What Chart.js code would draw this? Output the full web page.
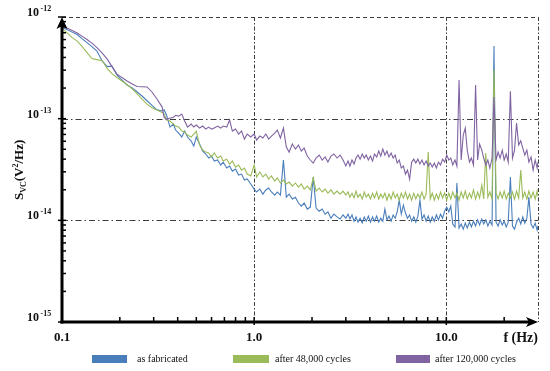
<!DOCTYPE html>
<html><head><meta charset="utf-8">
<script src="https://cdn.jsdelivr.net/npm/chart.js@4/dist/chart.umd.min.js"></script>
<style>
html,body{margin:0;padding:0;background:#fff;}
#wrap{position:relative;width:550px;height:371px;overflow:hidden;}
canvas{position:absolute;left:0;top:0;}
.lg{position:absolute;font-family:'Liberation Serif',serif;font-size:10px;line-height:10px;color:#111;white-space:nowrap;}
.bx{position:absolute;height:8px;}
</style></head><body>
<div id="wrap"><canvas id="c" width="550" height="371"></canvas></div>
<script>
// frequency (Hz)
const frequencies = [
0.100,0.106,0.113,0.120,0.127,0.135,0.143,0.152,0.162,0.172,0.182,0.193,0.205,0.218,0.232,0.246,0.261,0.277,0.294,0.312,0.332,
0.34,0.35,0.365,0.38,0.39,0.405,0.42,0.435,0.45,0.47,0.485,0.50,0.52,0.54,0.56,0.58,0.60,0.62,0.645,0.67,0.69,0.72,0.745,0.77,0.80,0.83,0.86,0.89,0.92,0.96,1.0,
1.03,1.07,1.11,1.15,1.19,1.23,1.28,1.32,1.37,1.42,1.47,1.52,1.58,1.64,1.7,1.76,1.82,1.89,1.96,2.03,2.1,2.18,2.26,2.34,2.42,2.51,2.6,2.7,2.8,2.9,3.0,
3.08,3.15,3.23,3.31,3.39,3.47,3.56,3.65,3.74,3.83,3.93,4.03,4.13,4.23,4.34,4.45,4.56,4.67,4.79,4.91,5.03,5.16,5.29,5.42,5.55,5.69,5.83,5.98,6.13,6.28,
6.44,6.6,6.77,6.94,7.11,7.29,7.47,7.66,7.85,8.05,8.25,8.45,8.66,8.88,9.1,9.33,9.56,9.8,10.05,10.3,10.55,10.8,11.1,11.35,11.65,11.95,12.25,12.55,12.85,13.2,
13.5,13.85,14.2,14.55,14.9,15.3,15.65,16.05,16.45,16.85,17.3,17.7,18.15,18.6,19.05,19.55,20.0,20.5,21.0,21.55,22.1,22.65,23.2,23.8,24.4,25.0,25.6,26.25,26.9,27.6,
28.3,29.0,29.7,30.0
];
// S_VC values in units of 1e-15 V^2/Hz
const asFabricated = [
796,752,710,672,613,560,511,462,368,325,329,270,240,214,200,183,167,150,135,122,119,
122,108,82.7,88.5,77.3,72.2,66,75.5,66,60.2,53.8,66,56.3,48,44.9,41,42.9,38.3,39.2,35,37.4,32.7,34.2,30.5,32,27.9,28.5,24.9,25.5,22.8,20.3,
19,20.3,18.1,19.9,20.8,19,17.7,19,17.7,39.2,16.9,18.1,16.2,16.9,14.8,13.8,14.8,12.9,13.5,26.7,13.2,12.3,12.9,11.5,12.1,10.5,11.5,10.8,10.3,11.3,10.5,
11.5,10.3,11.3,9.8,10.8,9.6,10.5,9.4,10.8,9.8,11,9.6,10.8,9.8,11,9.6,10.5,9.8,12.9,10.1,11,9.8,11.3,10.5,12.1,15.8,11.5,14.1,11.8,10.5,
11.3,9.8,10.8,9.6,11,15.8,10.3,11.3,9.8,11,9.6,10.8,9.8,11.3,10.1,11.5,10.5,12.3,13.5,12.1,13.8,9.2,8.6,23.3,8.4,9.2,8.2,9.4,8.4,9.6,
8.6,9.8,8.8,10.1,9,10.3,9.2,10.1,8.8,9.8,9,517,9.6,8.8,10.1,9,9.8,8.6,9.6,26.7,8.8,8.2,9.6,10.5,9.2,10.8,9.4,10.5,16.9,9.2,
8.4,9.4,8,8.8
];
const after48k = [
778,702,627,580,513,447,390,381,372,311,277,254,235,217,196,175,156,139,128,122,115,
111,96.9,94.7,88.5,84.6,82.7,75.5,73.8,69,66,70.6,75.5,55,49.1,46.9,45.9,41.9,45.9,41,42.9,38.3,40,35.8,38.3,33.4,35,31.2,32.7,28.5,27.3,35,
26.7,29.9,26.7,28.5,25.5,27.3,24.3,26.1,23.3,24.9,22.8,23.8,21.7,23.3,21.2,22.8,20.3,21.7,19.9,26.1,19.4,20.8,19,20.3,18.5,19.9,18.1,19.4,18.1,19.4,17.7,
19,16.9,18.5,16.6,19.4,16.9,18.1,16.2,19,16.9,18.1,16.2,18.5,16.6,19,16.2,18.1,16.6,18.5,15.8,18.1,16.2,19,16.6,18.1,15.8,18.5,16.6,19,16.2,
18.1,15.8,18.5,16.2,18.1,16.6,19,16.2,18.1,46.9,16.2,18.5,15.8,18.1,16.2,19,16.6,18.5,15.8,18.5,16.2,19,16.6,18.5,15.8,19,16.6,19.4,16.2,18.5,
16.6,19.9,16.2,19,16.6,22.2,16.2,45.9,16.9,19,16.2,301,18.5,16.2,19,16.6,19.4,16.2,18.5,16.6,19,16.2,19.4,16.6,31.2,16.6,19,16.2,19.4,16.6,
19,16.2,19.4,17.3
];
const after120k = [
814,778,735,695,649,600,553,500,442,385,325,274,254,235,219,207,206,205,183,156,130,
103,98.9,101,103,108,106,111,94.7,82.7,88.5,82.7,86.5,80.8,84.6,79,82.7,79,80.8,84.6,80.8,84.6,82.7,96.9,75.5,79,70.6,75.5,63,70.6,66,70.6,
61.6,67.4,64.5,70.6,63,67.4,72.2,77.3,64.5,80.8,52.6,46.9,56.3,50.2,55,48,51.4,42.9,39.2,36.6,41,43.9,39.2,42,37.4,42.9,44.9,41,43.9,39.2,34.2,
38.3,34.2,39.2,35.8,41,43.9,40,44.9,41,43.9,39.2,42.9,38.3,44.9,42,48,42.9,50.2,43.9,48,42,45.9,41,43.9,36.6,39.2,32.7,34.2,28.5,31.2,
25.5,37.4,40,36.6,40,35.8,39.2,35,38.3,34.2,36.6,33.4,36.6,32.7,37.4,35,40,37.4,43.9,39.2,41,35,39.2,34.2,240,39.2,69,80.8,49.1,37.4,
41,35,214,39.2,56.3,49.1,41,35,39.2,32.7,41,163,39.2,46.9,41,49.1,39.2,44.9,37.4,186,41,49.1,90.5,55,60.5,51.4,43.9,49.1,37.4,42,
31.2,39.2,32.7,37.4
];
const unit = 1e-15;
const seriesNames = ['as fabricated','after 48,000 cycles','after 120,000 cycles'];
const xTickValues = [0.1, 1, 10];
const xTickLabels = ['0.1','1.0','10.0'];
const xAxisLabel = 'f (Hz)';
const yDecadeExponents = [-15, -14, -13, -12];
const xMin = 0.1, xMax = 30, yMin = 1e-15, yMax = 1e-12;

const colors = ['#4a7ebb', '#9bbb59', '#8064a2'];
const seriesValues = [asFabricated, after48k, after120k];
const pts = vals => frequencies.map((f, i) => ({x: f, y: vals[i] * unit}));

const SERIF = "'Liberation Serif', 'Times New Roman', serif";

const decor = {
  id: 'decor',
  beforeDatasetsDraw(chart) {
    const {ctx, chartArea: a, scales: {x, y}} = chart;
    ctx.save();
    ctx.strokeStyle = '#3c3c3c';
    ctx.lineWidth = 1;
    yDecadeExponents.slice(1).forEach(e => {
      const py = Math.round(y.getPixelForValue(Math.pow(10, e))) + 0.5;
      ctx.setLineDash(e === -12 ? [4, 3] : [6, 3, 1.5, 3]);
      ctx.beginPath(); ctx.moveTo(a.left, py); ctx.lineTo(a.right, py); ctx.stroke();
    });
    [1, 10, xMax].forEach(v => {
      const px = Math.round(x.getPixelForValue(v)) + 0.5;
      ctx.setLineDash([4, 2, 1.5, 2]);
      ctx.beginPath(); ctx.moveTo(px, a.top); ctx.lineTo(px, a.bottom); ctx.stroke();
    });
    ctx.restore();
  },
  afterDatasetsDraw(chart) {
    const {ctx, chartArea: a, scales: {x, y}} = chart;
    ctx.save();
    ctx.setLineDash([]);
    ctx.strokeStyle = '#000'; ctx.fillStyle = '#000';
    // y axis
    ctx.lineWidth = 3;
    ctx.beginPath(); ctx.moveTo(a.left, a.bottom + 1.5); ctx.lineTo(a.left, a.top + 8); ctx.stroke();
    ctx.beginPath(); ctx.moveTo(a.left, a.top); ctx.lineTo(a.left - 5.5, a.top + 12); ctx.lineTo(a.left, a.top + 9); ctx.lineTo(a.left + 5.5, a.top + 12); ctx.closePath(); ctx.fill();
    // x axis
    ctx.beginPath(); ctx.moveTo(a.left - 1.5, a.bottom); ctx.lineTo(a.right - 8, a.bottom); ctx.stroke();
    ctx.beginPath(); ctx.moveTo(a.right, a.bottom); ctx.lineTo(a.right - 12, a.bottom - 5); ctx.lineTo(a.right - 9, a.bottom); ctx.lineTo(a.right - 12, a.bottom + 5); ctx.closePath(); ctx.fill();
    // y ticks
    ctx.lineWidth = 1.5;
    yDecadeExponents.forEach((e, k) => {
      const base = Math.pow(10, e);
      const py = y.getPixelForValue(base);
      ctx.beginPath(); ctx.moveTo(a.left - 4, py); ctx.lineTo(a.left + 4, py); ctx.stroke();
      if (k < yDecadeExponents.length - 1) {
        for (let m = 2; m <= 9; m++) {
          const pm = y.getPixelForValue(m * base);
          ctx.beginPath(); ctx.moveTo(a.left, pm); ctx.lineTo(a.left + 4, pm); ctx.stroke();
        }
      }
    });
    // x ticks
    [-1, 0, 1].forEach(e => {
      const base = Math.pow(10, e);
      for (let m = 1; m <= 9; m++) {
        const v = m * base;
        if (v <= xMin || v >= xMax) continue;
        const px = x.getPixelForValue(v);
        ctx.beginPath(); ctx.moveTo(px, a.bottom - 5); ctx.lineTo(px, a.bottom + (m === 1 ? 3 : 0)); ctx.stroke();
      }
    });
    ctx.restore();
  },
  afterDraw(chart) {
    const {ctx, chartArea: a, scales: {x, y}} = chart;
    ctx.save();
    ctx.fillStyle = '#111';
    ctx.textBaseline = 'alphabetic';
    ctx.textAlign = 'left';
    // y tick labels 10^e
    yDecadeExponents.forEach(e => {
      const py = y.getPixelForValue(Math.pow(10, e));
      ctx.font = 'bold 12px ' + SERIF;
      const w = ctx.measureText('10').width;
      ctx.fillText('10', 27, py - 1);
      ctx.font = 'bold 8px ' + SERIF;
      ctx.fillText(String(e), 27 + w + 1.5, py - 6);
    });
    // x axis label
    ctx.font = 'bold 14px ' + SERIF;
    ctx.textAlign = 'right';
    ctx.fillText(xAxisLabel, a.right, a.bottom + 20);
    // y axis title (rotated)
    ctx.translate(23, 200);
    ctx.rotate(-Math.PI / 2);
    ctx.textAlign = 'left';
    let cx = 0;
    const part = (t, size, dy) => {
      ctx.font = 'bold ' + size + 'px ' + SERIF;
      ctx.fillText(t, cx, dy);
      cx += ctx.measureText(t).width;
    };
    part('S', 13, 0);
    part('VC', 8, 3);
    part('(V', 13, 0);
    part('2', 8, -5);
    part('/Hz)', 13, 0);
    ctx.restore();
  }
};

new Chart(document.getElementById('c'), {
  type: 'line',
  data: {
    datasets: seriesValues.map((vals, i) => ({
      label: seriesNames[i],
      data: pts(vals),
      borderColor: colors[i],
      backgroundColor: colors[i],
      borderWidth: 1.1,
      pointRadius: 0,
      tension: 0,
      fill: false,
      order: 3 - i
    }))
  },
  options: {
    responsive: false,
    animation: false,
    devicePixelRatio: 1,
    parsing: true,
    layout: {padding: {left: 0, right: 12, top: 17, bottom: 19}},
    plugins: {legend: {display: false}, tooltip: {enabled: false}},
    scales: {
      x: {
        type: 'logarithmic', min: xMin, max: xMax,
        afterBuildTicks: axis => { axis.ticks = xTickValues.map(v => ({value: v})); },
        afterFit: s => { s.height = 30; },
        grid: {display: false, drawTicks: false},
        border: {display: false},
        ticks: {
          autoSkip: false, maxRotation: 0, padding: 8, color: '#111',
          font: {family: SERIF, size: 13, weight: 'bold'},
          callback: (v, i) => xTickLabels[i]
        }
      },
      y: {
        type: 'logarithmic', min: yMin, max: yMax,
        afterFit: s => { s.width = 62; },
        grid: {display: false, drawTicks: false},
        border: {display: false},
        ticks: {display: false}
      }
    }
  },
  plugins: [decor]
});

// legend
const legendPos = [{box: 92, w: 35, text: 137}, {box: 233, w: 36, text: 275}, {box: 396, w: 34, text: 435}];
const wrap = document.getElementById('wrap');
seriesNames.forEach((name, i) => {
  const b = document.createElement('div');
  b.className = 'bx';
  b.style.left = legendPos[i].box + 'px'; b.style.top = '355px'; b.style.width = legendPos[i].w + 'px';
  b.style.background = colors[i];
  wrap.appendChild(b);
  const t = document.createElement('div');
  t.className = 'lg';
  t.style.left = legendPos[i].text + 'px'; t.style.top = '354px';
  t.textContent = name;
  wrap.appendChild(t);
});
</script>
</body></html>
